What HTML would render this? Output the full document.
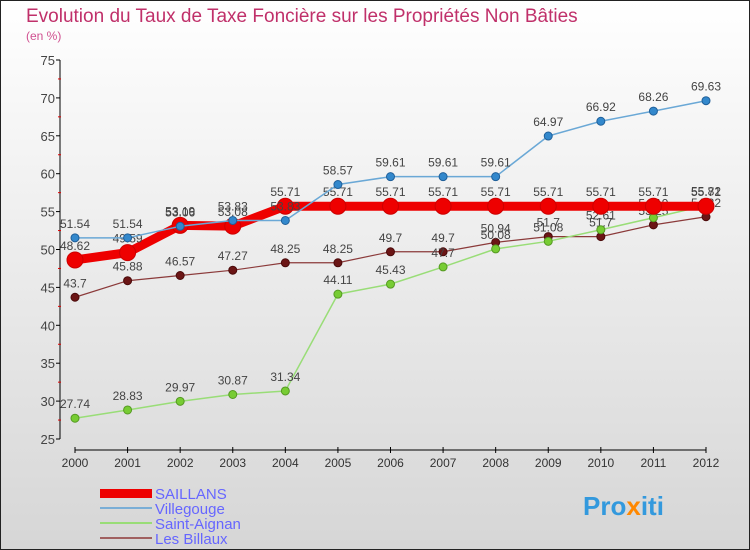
<!DOCTYPE html>
<html><head><meta charset="utf-8"><style>
body{margin:0;}
#c{width:750px;height:550px;position:relative;overflow:hidden;}
text{font-family:"Liberation Sans",sans-serif;}
</style></head><body>
<div id="c">
<svg id="s" width="750" height="550" xmlns="http://www.w3.org/2000/svg">
<defs><linearGradient id="bg" x1="0" y1="0" x2="0" y2="1"><stop offset="0" stop-color="#ffffff"/><stop offset="1" stop-color="#d6d6d6"/></linearGradient></defs>
<rect x="0.5" y="0.5" width="749" height="549" fill="url(#bg)" stroke="#222"/>
<text x="26" y="22" font-size="19" fill="#c0306a">Evolution du Taux de Taxe Foncière sur les Propriétés Non Bâties</text>
<text x="26" y="40" font-size="12" fill="#d05090">(en %)</text>
<g id="g"></g>
<g>
<rect x="100" y="489" width="52" height="9" fill="#ee0000"/>
<text x="155" y="499" font-size="15" fill="#6666ff">SAILLANS</text>
<line x1="100" y1="508" x2="152" y2="508" stroke="#7aaed6" stroke-width="2"/>
<text x="155" y="514" font-size="15" fill="#6666ff">Villegouge</text>
<line x1="100" y1="523" x2="152" y2="523" stroke="#99dd77" stroke-width="2"/>
<text x="155" y="529" font-size="15" fill="#6666ff">Saint-Aignan</text>
<line x1="100" y1="538" x2="152" y2="538" stroke="#a06060" stroke-width="2"/>
<text x="155" y="544" font-size="15" fill="#6666ff">Les Billaux</text>
</g>
<text x="583" y="515" font-size="26" font-weight="bold" fill="#3399dd">Pro<tspan fill="#ff8800">x</tspan>iti</text>
</svg>
</div>
<script>
const years=[2000,2001,2002,2003,2004,2005,2006,2007,2008,2009,2010,2011,2012];
const saillans=[48.62,49.59,53.19,53.08,55.71,55.71,55.71,55.71,55.71,55.71,55.71,55.71,55.71];
const villegouge=[51.54,51.54,53.06,53.83,53.83,58.57,59.61,59.61,59.61,64.97,66.92,68.26,69.63];
const saintAignan=[27.74,28.83,29.97,30.87,31.34,44.11,45.43,47.7,50.08,51.08,52.61,54.19,55.82];
const lesBillaux=[43.7,45.88,46.57,47.27,48.25,48.25,49.7,49.7,50.94,51.7,51.7,53.25,54.32];
const yTicks=[25,30,35,40,45,50,55,60,65,70,75];
const NS="http://www.w3.org/2000/svg";
const g=document.getElementById('g');
function X(i){return 75+i*(706-75)/(years.length-1);}
function Y(v){return 439-(v-25)*(439-60)/50;}
function mk(t,a,p){const e=document.createElementNS(NS,t);for(const k in a)e.setAttribute(k,a[k]);(p||g).appendChild(e);return e;}
// axes
let ya=mk('line',{x1:60,y1:Y(75),x2:60,y2:Y(25),stroke:'#000'});


yTicks.forEach(v=>{
 let t=mk('line',{x1:56,y1:Y(v),x2:60,y2:Y(v),stroke:'#000'});
 
 
 let l=mk('text',{x:55,y:Y(v)+5,'font-size':13,fill:'#444','text-anchor':'end'});l.textContent=v;
 
 
 if(v<75){let m=mk('line',{x1:58,y1:Y(v+2.5),x2:61,y2:Y(v+2.5),stroke:'#d00'});
 
 }
});
let xa=mk('line',{x1:75,y1:450,x2:706,y2:450,stroke:'#000'});


years.forEach((yr,i)=>{
 let t=mk('line',{x1:X(i),y1:447,x2:X(i),y2:453,stroke:'#000'});
 
 
 let l=mk('text',{x:X(i),y:467,'font-size':12,fill:'#333','text-anchor':'middle'});l.textContent=yr;
 
 
});
function series(name,vals,color,w,r,dot,dotStroke){
 const sg=mk('g',{});
 
 
 let p=mk('polyline',{points:vals.map((v,i)=>X(i)+','+Y(v)).join(' '),fill:'none',stroke:color,'stroke-width':w,'stroke-linejoin':'round'},sg);
 
 
 vals.forEach((v,i)=>{
  let c=mk('circle',{cx:X(i),cy:Y(v),r:r,fill:dot,stroke:dotStroke,'stroke-width':1},sg);
  
  
  let l=mk('text',{x:X(i),y:Y(v)-10,'font-size':12,fill:'#444','text-anchor':'middle'},sg);l.textContent=v;
  
  
 });
}
series('les-billaux',lesBillaux,'#8b3a3a',1.2,4,'#6b1515','#4a0a0a');
series('saint-aignan',saintAignan,'#99dd77',1.5,4,'#77cc33','#559922');
series('saillans',saillans,'#ee0000',9,8,'#ee0000','#cc0000');
series('villegouge',villegouge,'#6aa8d6',1.5,4,'#3388cc','#1f5f99');
</script>
</body></html>
